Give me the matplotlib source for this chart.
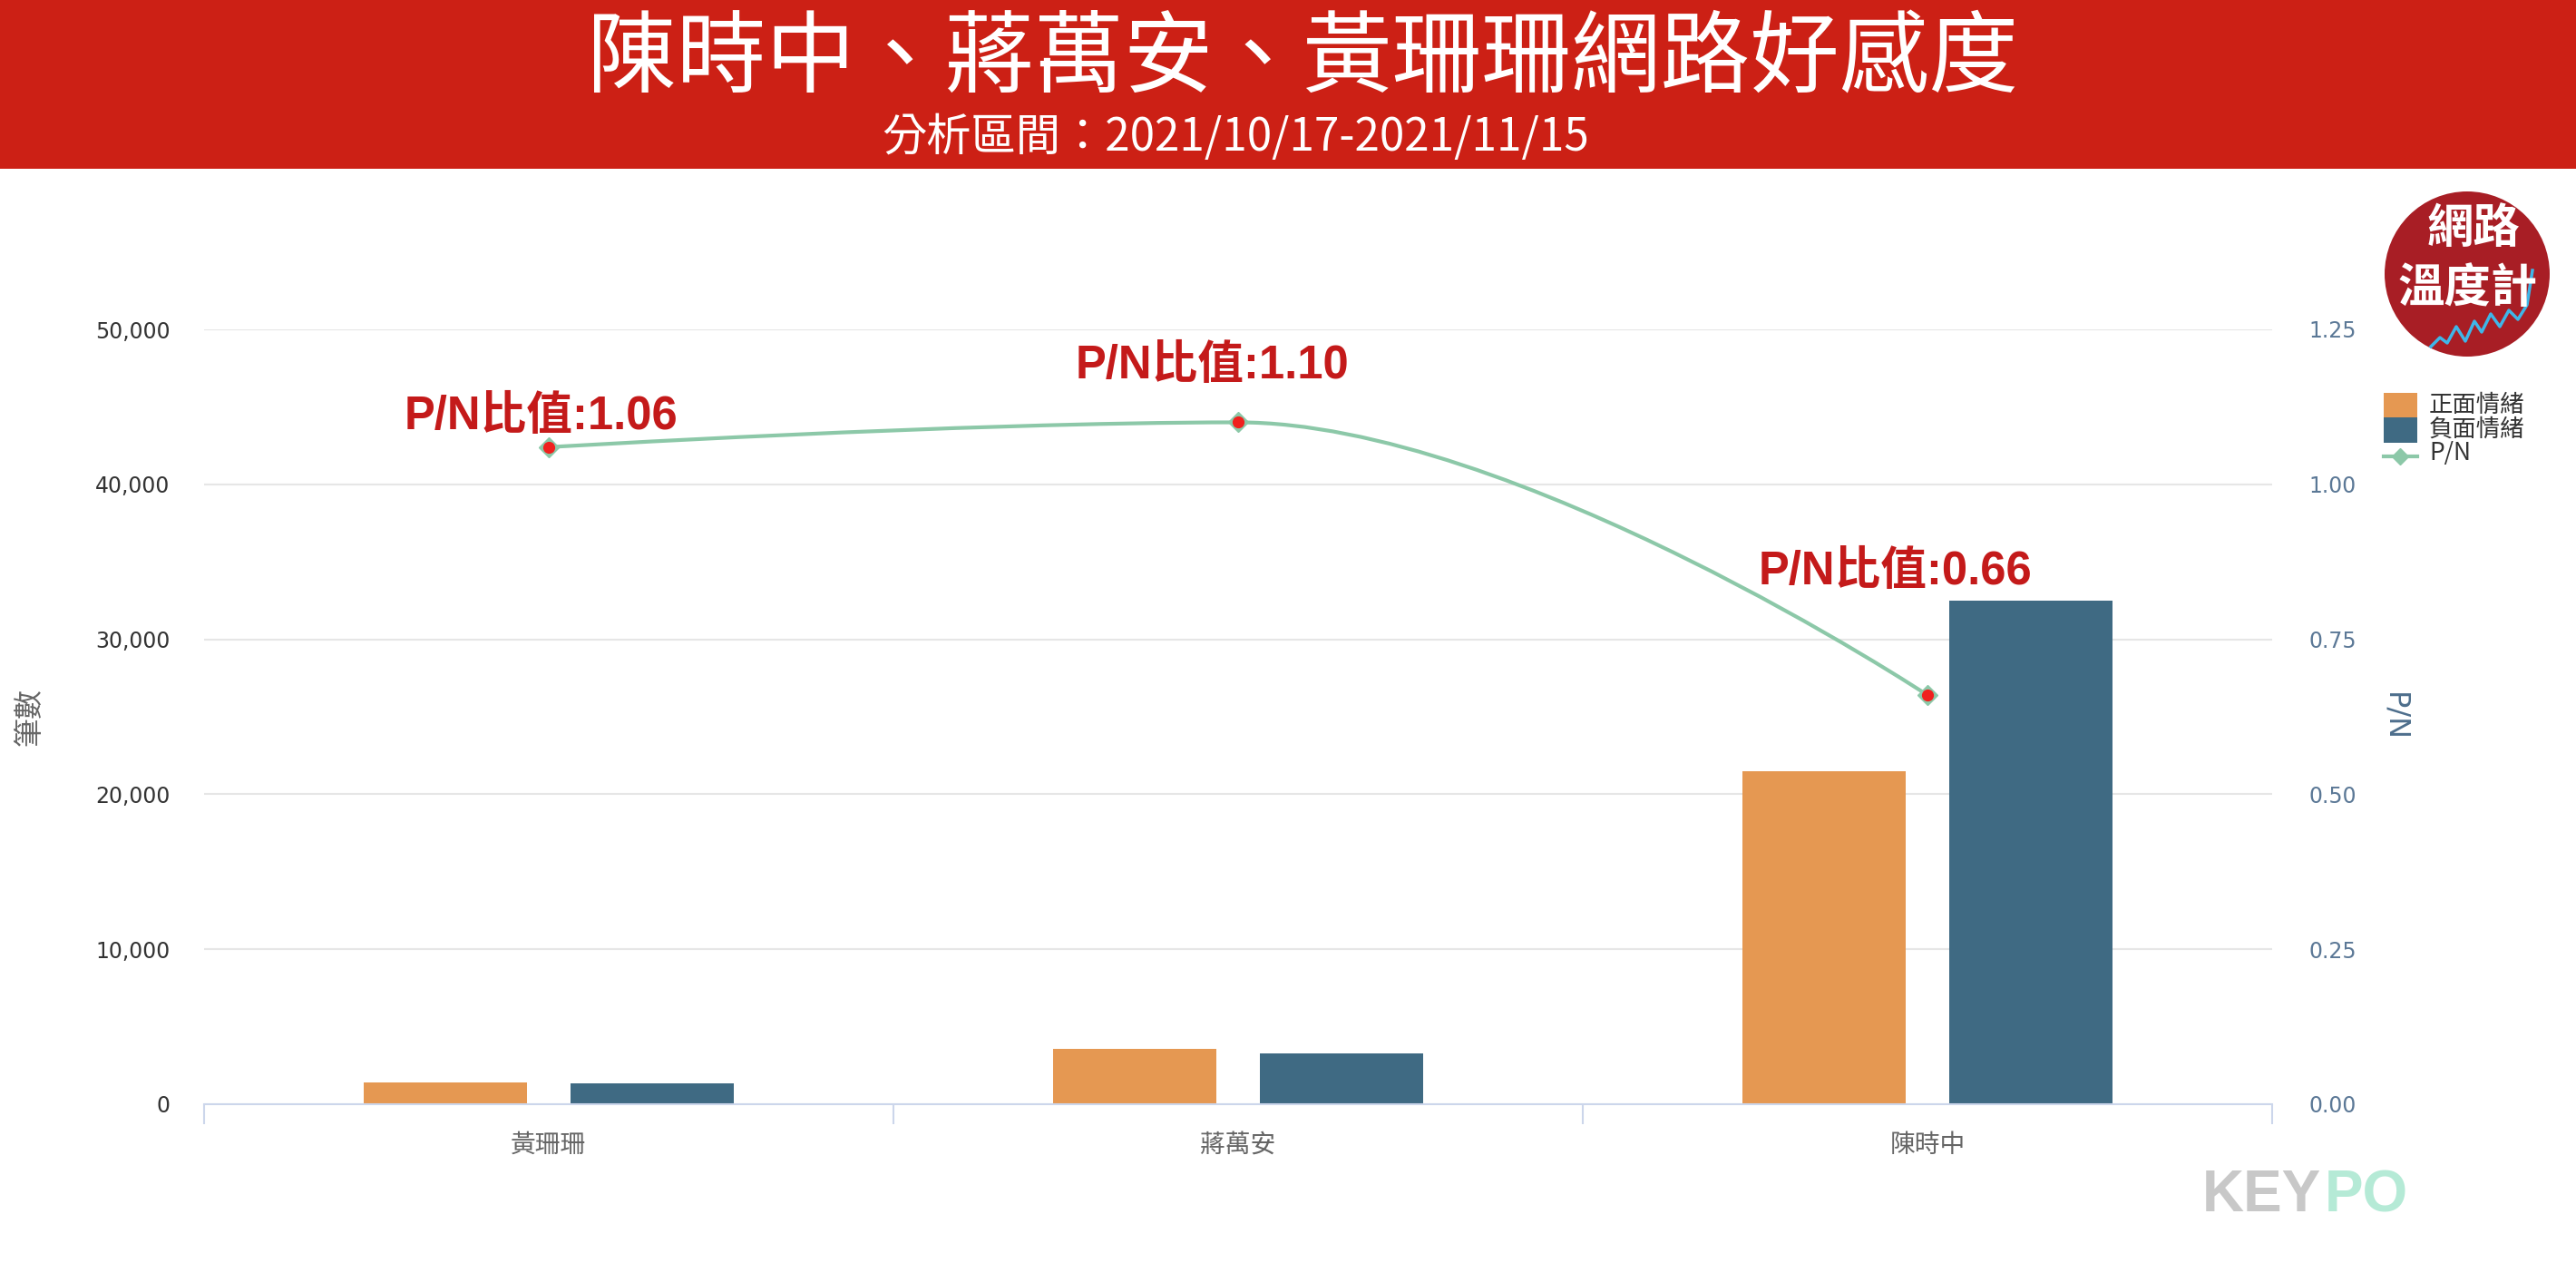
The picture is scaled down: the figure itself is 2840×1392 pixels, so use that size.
import numpy as np
import matplotlib
matplotlib.use('Agg')
import matplotlib.pyplot as plt
from matplotlib.path import Path
from matplotlib.patches import PathPatch, Rectangle, Ellipse
from matplotlib.lines import Line2D
from matplotlib.ticker import FuncFormatter

W, H = 2840, 1392

categories = ['黃珊珊', '蔣萬安', '陳時中']
positive = [1400, 3600, 21500]
negative = [1320, 3270, 32500]
pn_ratio = [1.06, 1.10, 0.66]
left_ticks = [0, 10000, 20000, 30000, 40000, 50000]
right_ticks = [0.0, 0.25, 0.5, 0.75, 1.0, 1.25]

title = '陳時中、蔣萬安、黃珊珊網路好感度'
subtitle = '分析區間：2021/10/17-2021/11/15'

ORANGE = '#e59852'
BLUE = '#3f6a83'
GREEN = '#8cc8a8'
RED = '#c41a1a'

plt.rcParams['font.family'] = ['DejaVu Sans', 'Noto Sans CJK TC']

fig = plt.figure(figsize=(W / 100, H / 100), dpi=100)


def fx(px):
    return px / W


def fy(py):
    return 1 - py / H


# red banner
fig.add_artist(Rectangle((0, fy(186)), 1, 186 / H, transform=fig.transFigure,
                         color='#cc2015', lw=0, zorder=0))
fig.text(fx(1436), fy(67), title, ha='center', va='center', color='white',
         fontsize=71, family=['Noto Sans CJK TC'])
fig.text(fx(1362), fy(152), subtitle, ha='center', va='center', color='white',
         fontsize=35.5, family=['Noto Sans CJK TC'])

ax = fig.add_axes([fx(225), fy(1217), fx(2505) - fx(225), (1217 - 363) / H])
x = np.arange(len(categories))
ax.bar(x - 0.15, positive, 0.236, color=ORANGE, zorder=2)
ax.bar(x + 0.15, negative, 0.236, color=BLUE, zorder=2)
ax.set_xlim(-0.5, len(categories) - 0.5)
ax.set_ylim(0, 50000)
ax.set_yticks(left_ticks)
ax.yaxis.set_major_formatter(FuncFormatter(lambda v, p: f'{int(v):,}'))
ax.grid(axis='y', color='#e6e6e6', lw=1.5, zorder=0)
ax.set_axisbelow(True)
for s in ['top', 'left', 'right']:
    ax.spines[s].set_visible(False)
ax.spines['bottom'].set_color('#ccd6eb')
ax.spines['bottom'].set_linewidth(1.5)
ax.tick_params(axis='y', length=0, pad=27, labelsize=17, labelcolor='#333333')
ax.set_xticks(np.arange(len(categories) + 1) - 0.5)
ax.set_xticklabels([])
ax.tick_params(axis='x', which='major', length=16, width=1.5, color='#ccd6eb')
ax.set_xticks(x, minor=True)
ax.set_xticklabels(categories, minor=True)
ax.tick_params(axis='x', which='minor', length=0, pad=22, labelsize=20,
               labelcolor='#666666')
ax.set_ylabel('筆數', fontsize=23, color='#666666', va='center')
ax.yaxis.set_label_coords((33 - 225) / 2280, 0.5)

ax2 = ax.twinx()
ax2.set_ylim(0, 1.25)
ax2.set_yticks(right_ticks)
ax2.yaxis.set_major_formatter(FuncFormatter(lambda v, p: f'{v:.2f}'))
for s in ax2.spines.values():
    s.set_visible(False)
ax2.tick_params(axis='y', length=0, pad=29, labelsize=17, labelcolor='#5b7896')
ax2.set_ylabel('P/N', fontsize=23, color='#4d6e8c', rotation=270, va='center')
ax2.yaxis.set_label_coords((2640 - 225) / 2280, 0.5)

# spline like the original chart (smoothing 1.5, flat at extremes)
px = list(x.astype(float))
py = list(pn_ratio)
n = len(px)
lc = [None] * n
rc = [None] * n
sm = 1.5
for i in range(1, n - 1):
    lx = (sm * px[i] + px[i - 1]) / (sm + 1)
    ly = (sm * py[i] + py[i - 1]) / (sm + 1)
    rx = (sm * px[i] + px[i + 1]) / (sm + 1)
    ry = (sm * py[i] + py[i + 1]) / (sm + 1)
    corr = (ry - ly) * (rx - px[i]) / (rx - lx) + py[i] - ry
    ly += corr
    ry += corr
    if ly > py[i - 1] and ly > py[i]:
        ly = max(py[i - 1], py[i]); ry = 2 * py[i] - ly
    elif ly < py[i - 1] and ly < py[i]:
        ly = min(py[i - 1], py[i]); ry = 2 * py[i] - ly
    if ry > py[i + 1] and ry > py[i]:
        ry = max(py[i + 1], py[i]); ly = 2 * py[i] - ry
    elif ry < py[i + 1] and ry < py[i]:
        ry = min(py[i + 1], py[i]); ly = 2 * py[i] - ry
    lc[i] = (lx, ly)
    rc[i] = (rx, ry)
verts = [(px[0], py[0])]
codes = [Path.MOVETO]
for i in range(1, n):
    c1 = rc[i - 1] or (px[i - 1], py[i - 1])
    c2 = lc[i] or (px[i], py[i])
    verts += [c1, c2, (px[i], py[i])]
    codes += [Path.CURVE4] * 3
ax2.add_patch(PathPatch(Path(verts, codes), fill=False, edgecolor=GREEN, lw=3,
                        zorder=3))
ax2.plot(x, pn_ratio, 'D', color=GREEN, ms=11, zorder=4)
ax2.plot(x, pn_ratio, 'o', color='#f0201e', ms=8.5, zorder=5)

offsets = [(-9, 20), (-29, 48), (-36, 122)]
for xi, v, off in zip(x, pn_ratio, offsets):
    ax2.annotate(f'P/N比值:{v:.2f}', (xi, v), xytext=off, textcoords='offset pixels',
                 ha='center', va='baseline', fontsize=36.5, fontweight='bold',
                 color=RED, family=['Liberation Sans', 'Noto Sans CJK TC'], zorder=6)

# legend
fig.add_artist(Rectangle((fx(2628), fy(460)), 37 / W, 27 / H, transform=fig.transFigure,
                         color=ORANGE, lw=0))
fig.add_artist(Rectangle((fx(2628), fy(488)), 37 / W, 28 / H, transform=fig.transFigure,
                         color=BLUE, lw=0))
fig.add_artist(Line2D([fx(2628), fx(2665)], [fy(503), fy(503)], transform=fig.transFigure,
                      color=GREEN, lw=3))
fig.add_artist(Line2D([fx(2646)], [fy(503)], transform=fig.transFigure, marker='D',
                      color=GREEN, ms=9))
for lbl, yy in [('正面情緒', 446), ('負面情緒', 473), ('P/N', 500)]:
    fig.text(fx(2678), fy(yy), lbl, ha='left', va='center', fontsize=19,
             color='#333333', family=['Noto Sans CJK TC', 'DejaVu Sans'])

# logo top right
fig.add_artist(Ellipse((fx(2720), fy(302)), 182 / W, 182 / H, transform=fig.transFigure,
                       color='#a81e25', lw=0))
fig.text(fx(2727), fy(252), '網路', ha='center', va='center', fontsize=37,
         fontweight='bold', color='white', family=['Noto Sans CJK TC'])
fig.text(fx(2721), fy(317), '溫度計', ha='center', va='center', fontsize=37,
         fontweight='bold', color='white', family=['Noto Sans CJK TC'])
zx = [2680, 2690, 2698, 2708, 2718, 2728, 2736, 2746, 2756, 2766, 2776, 2786, 2792]
zy = [382, 372, 378, 360, 376, 354, 366, 346, 360, 342, 352, 336, 298]
fig.add_artist(Line2D([fx(v) for v in zx], [fy(v) for v in zy], transform=fig.transFigure,
                      color='#3fb6e8', lw=2.5))

# KEYPO logo
fig.text(fx(2559), fy(1318), 'KEY', ha='right', va='center', fontsize=46,
         fontweight='bold', color='#c8c8c8', family=['Liberation Sans'])
fig.text(fx(2563), fy(1318), 'PO', ha='left', va='center', fontsize=46,
         fontweight='bold', color='#b5ead6', family=['Liberation Sans'])

fig.savefig('out.png', dpi=100)
